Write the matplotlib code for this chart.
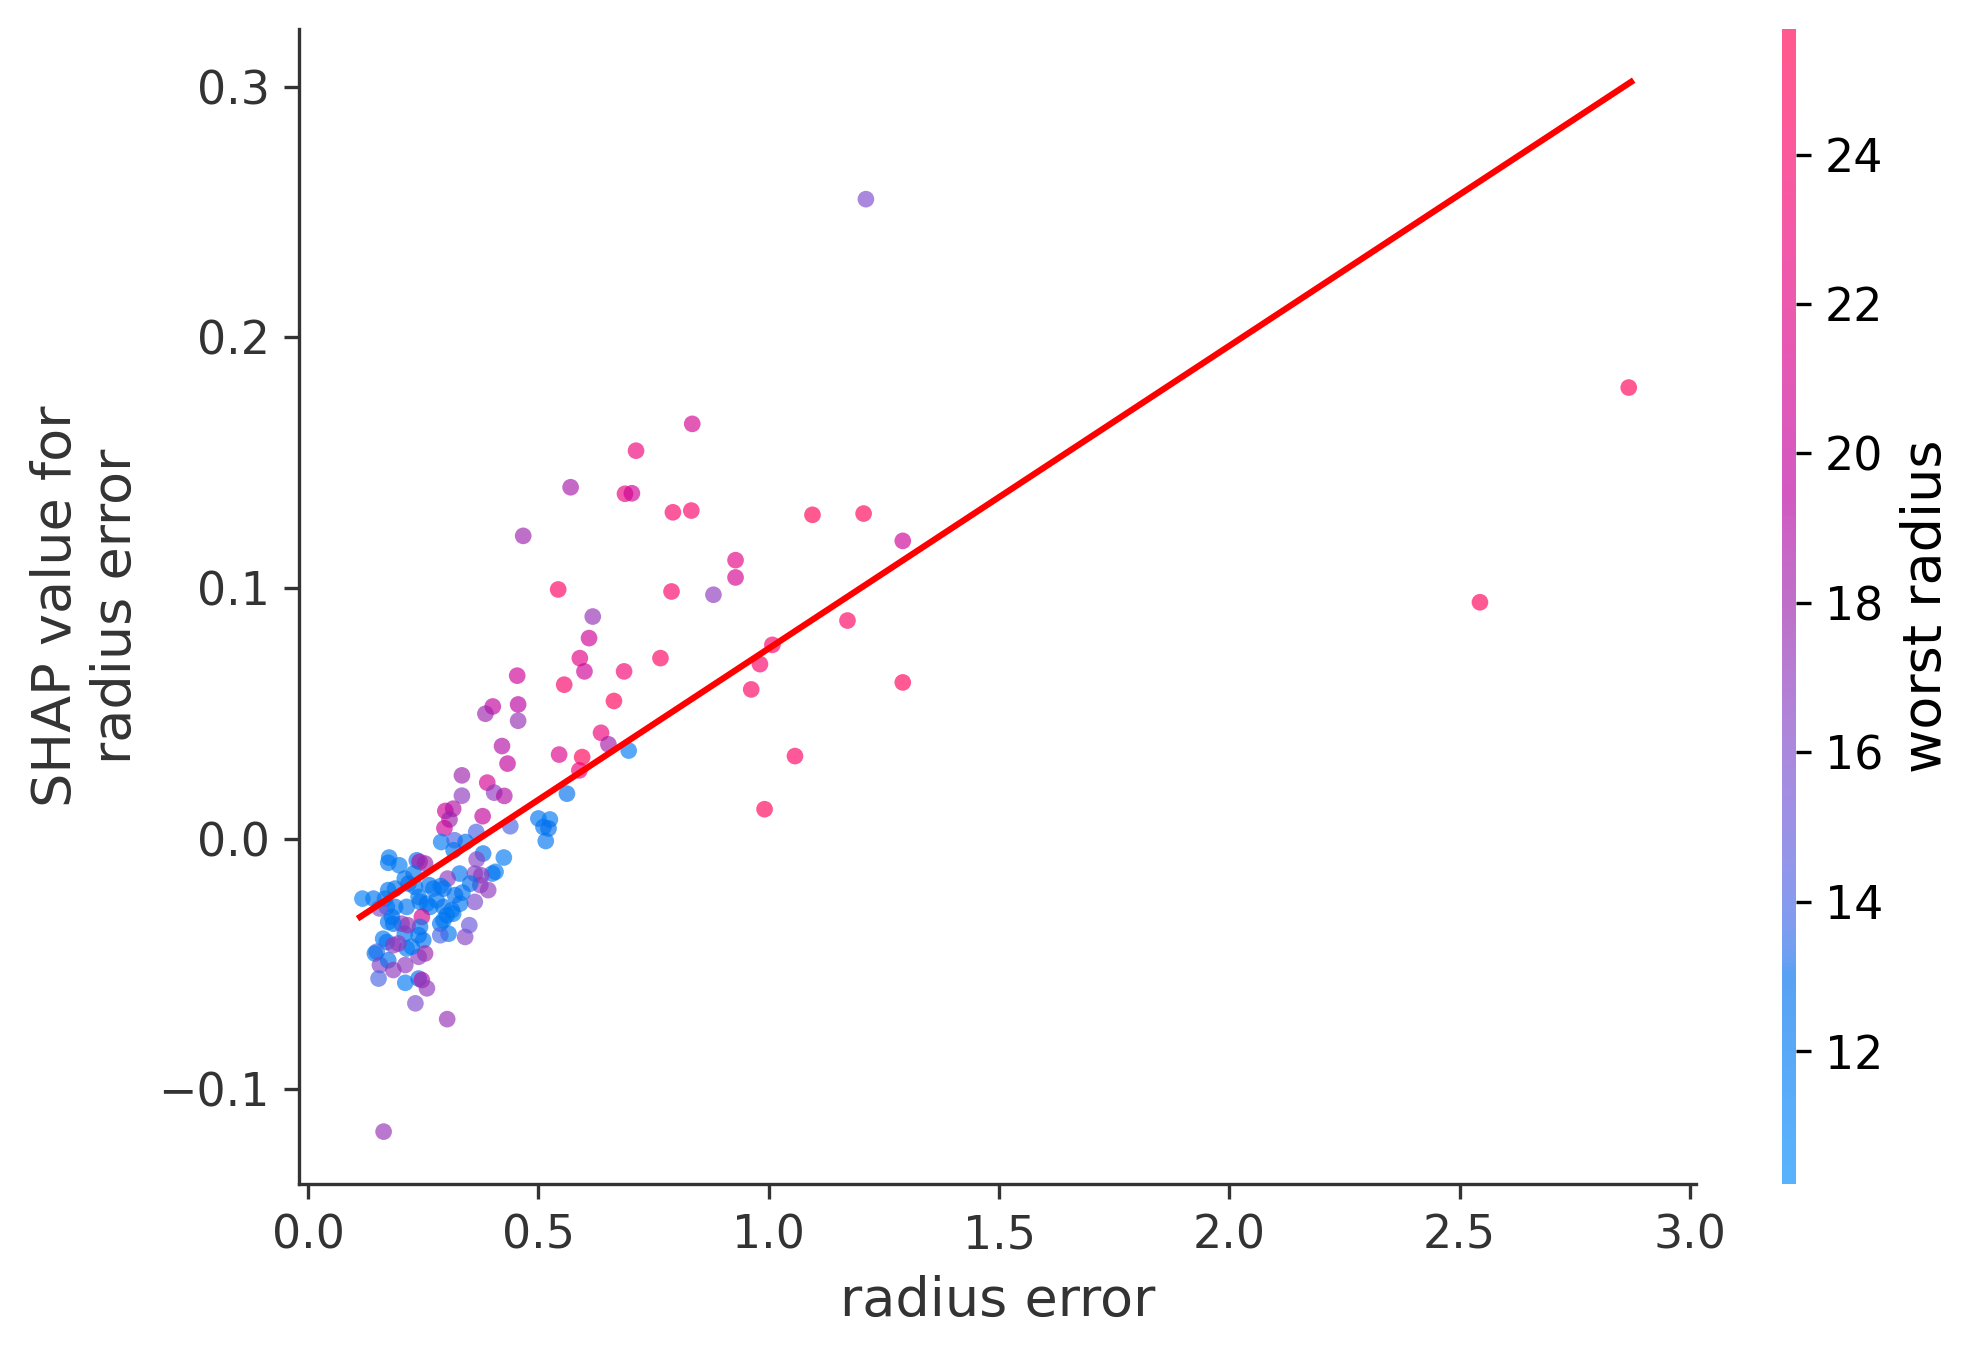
import numpy as np
import matplotlib
matplotlib.use('Agg')
import matplotlib.pyplot as plt
from matplotlib.colors import LinearSegmentedColormap

# radius error (x), SHAP value (y), worst radius (colour)
radius_error = [
    0.834, 0.712, 0.570, 0.688, 0.703, 0.792, 0.832, 1.095, 1.206, 1.291,
    0.467, 0.928, 0.928, 0.543, 0.789, 0.880, 0.618, 0.610, 1.171, 0.590,
    0.600, 0.765, 0.686, 0.454, 0.556, 1.008, 0.981, 0.962, 1.291, 0.401,
    0.385, 0.456, 0.456, 0.664, 0.421, 0.433, 0.636, 0.652, 0.696, 0.545,
    0.595, 0.589, 1.057, 0.389, 0.404, 0.426, 0.562,
    1.211, 2.867, 2.544, 0.991,
    0.334, 0.334, 0.298, 0.315, 0.307, 0.296, 0.379, 0.439, 0.500, 0.525,
    0.511, 0.522, 0.516, 0.289, 0.365, 0.318, 0.342, 0.316, 0.380, 0.425,
    0.366, 0.329, 0.407, 0.400, 0.362, 0.376, 0.374, 0.391, 0.362, 0.352,
    0.335, 0.319, 0.303, 0.294, 0.288, 0.263, 0.236, 0.242, 0.254, 0.229,
    0.176, 0.174, 0.198, 0.210, 0.218, 0.232, 0.240, 0.243, 0.258, 0.272,
    0.279, 0.265, 0.294, 0.301, 0.312, 0.315, 0.287, 0.305, 0.287, 0.294,
    0.341, 0.350, 0.247, 0.243, 0.240, 0.250, 0.254, 0.240, 0.225, 0.214,
    0.210, 0.216, 0.203, 0.185, 0.182, 0.174, 0.189, 0.171, 0.167, 0.174,
    0.189, 0.155, 0.142, 0.118, 0.163, 0.171, 0.185, 0.196, 0.149, 0.145,
    0.156, 0.174, 0.185, 0.211, 0.153, 0.211, 0.240, 0.247, 0.258, 0.233,
    0.214, 0.330, 0.302, 0.164,
]
shap_value = [
    0.1655, 0.1548, 0.1402, 0.1376, 0.1378, 0.1302, 0.1309, 0.1292, 0.1297, 0.1188,
    0.1208, 0.1111, 0.1042, 0.0994, 0.0986, 0.0973, 0.0886, 0.0800, 0.0870, 0.0720,
    0.0667, 0.0720, 0.0667, 0.0650, 0.0614, 0.0773, 0.0696, 0.0595, 0.0623, 0.0527,
    0.0498, 0.0535, 0.0470, 0.0549, 0.0369, 0.0299, 0.0422, 0.0376, 0.0351, 0.0335,
    0.0325, 0.0272, 0.0329, 0.0223, 0.0183, 0.0170, 0.0179,
    0.2552, 0.1800, 0.0943, 0.0117,
    0.0252, 0.0171, 0.0110, 0.0119, 0.0076, 0.0041, 0.0089, 0.0049, 0.0080, 0.0076,
    0.0046, 0.0040, -0.0010, -0.0014, 0.0026, -0.0007, -0.0014, -0.0047, -0.0060, -0.0076,
    -0.0084, -0.0140, -0.0133, -0.0140, -0.0140, -0.0147, -0.0186, -0.0206, -0.0253, -0.0180,
    -0.0216, -0.0226, -0.0160, -0.0200, -0.0190, -0.0186, -0.0087, -0.0093, -0.0100, -0.0140,
    -0.0076, -0.0097, -0.0107, -0.0160, -0.0180, -0.0193, -0.0233, -0.0253, -0.0260, -0.0200,
    -0.0246, -0.0273, -0.0273, -0.0306, -0.0286, -0.0300, -0.0340, -0.0380, -0.0386, -0.0326,
    -0.0393, -0.0346, -0.0313, -0.0353, -0.0386, -0.0406, -0.0459, -0.0472, -0.0432, -0.0439,
    -0.0380, -0.0346, -0.0340, -0.0340, -0.0313, -0.0333, -0.0273, -0.0273, -0.0240, -0.0206,
    -0.0200, -0.0279, -0.0240, -0.0240, -0.0400, -0.0413, -0.0426, -0.0419, -0.0452, -0.0459,
    -0.0505, -0.0486, -0.0525, -0.0505, -0.0559, -0.0576, -0.0559, -0.0565, -0.0598, -0.0658,
    -0.0273, -0.0260, -0.0721, -0.1170,
]
worst_radius = [
    21.0, 23.0, 18.5, 22.5, 20.5, 24.0, 24.0, 25.5, 25.0, 20.5,
    18.0, 22.0, 21.0, 24.5, 24.0, 17.0, 17.5, 20.5, 24.5, 22.0,
    20.5, 24.5, 23.5, 20.5, 24.0, 24.0, 24.0, 24.5, 25.0, 20.0,
    18.0, 19.5, 17.5, 25.0, 19.0, 20.0, 23.0, 18.5, 12.0, 21.5,
    25.0, 23.0, 24.5, 21.0, 17.0, 19.0, 13.0,
    16.0, 25.0, 25.0, 25.0,
    18.0, 17.0, 20.5, 19.0, 18.0, 20.5, 20.0, 14.0, 12.5, 12.0,
    12.5, 13.0, 12.5, 12.0, 14.0, 14.0, 13.0, 12.5, 13.0, 12.0,
    16.5, 12.5, 12.0, 12.5, 16.5, 17.0, 17.0, 17.0, 16.0, 13.0,
    12.5, 13.0, 17.0, 12.5, 12.5, 12.5, 12.5, 19.0, 18.0, 12.5,
    12.0, 12.5, 12.0, 12.5, 13.0, 12.5, 12.5, 12.5, 12.5, 12.5,
    12.5, 12.0, 12.5, 12.5, 12.5, 12.0, 12.5, 12.5, 14.0, 12.5,
    16.5, 15.0, 21.0, 12.5, 12.5, 12.5, 18.0, 17.0, 12.5, 12.0,
    12.5, 17.5, 17.0, 12.5, 12.5, 12.5, 12.5, 12.5, 12.0, 12.5,
    12.5, 16.0, 12.5, 11.5, 12.0, 12.5, 17.0, 17.0, 14.0, 12.5,
    16.5, 13.0, 17.0, 17.0, 14.0, 12.0, 13.0, 19.0, 17.0, 16.0,
    12.5, 12.5, 17.5, 17.5,
]

# fitted line end points
fit_x = [0.113, 2.872]
fit_y = [-0.0313, 0.302]


def lch2rgb(l, c, h):
    a = c * np.cos(h)
    b = c * np.sin(h)
    fy = (l + 16) / 116.
    fx = fy + a / 500.
    fz = fy - b / 200.

    def finv(t):
        return t ** 3 if t > 6 / 29. else 3 * (6 / 29.) ** 2 * (t - 4 / 29.)
    xyz = np.array([0.95047 * finv(fx), finv(fy), 1.08883 * finv(fz)])
    m = np.array([[3.2406, -1.5372, -0.4986],
                  [-0.9689, 1.8758, 0.0415],
                  [0.0557, -0.2040, 1.0570]])
    rgb = m @ xyz
    rgb = np.where(rgb > 0.0031308, 1.055 * np.abs(rgb) ** (1 / 2.4) - 0.055, 12.92 * rgb)
    return np.clip(rgb, 0, 1)


nsteps = 100
l_vals = list(np.linspace(54., 40., nsteps // 2)) + list(np.linspace(40., 54., nsteps // 2))
c_vals = np.linspace(70., 90., nsteps)
h_vals = np.linspace(4.6588, 0.35470565 + 2 * np.pi, nsteps)
cols = [lch2rgb(l, c, h) for l, c, h in zip(l_vals, c_vals, h_vals)]
red_blue = LinearSegmentedColormap.from_list('red_blue', cols)

fig = plt.figure(figsize=(1982 / 300, 1357 / 300), dpi=300)
ax = fig.add_axes([0.1509, 0.1275, 0.7048, 0.8511])
cax = fig.add_axes([0.899, 0.1275, 0.0071, 0.8511])

sc = ax.scatter(radius_error, shap_value, c=worst_radius, cmap=red_blue, vmin=10.22, vmax=25.68,
                s=16, linewidth=0, alpha=0.65)
ax.plot(fit_x, fit_y, color='red', lw=1.5)

ax.set_xlim(-0.0195, 3.013)
ax.set_ylim(-0.1379, 0.3231)
ax.set_xticks([0.0, 0.5, 1.0, 1.5, 2.0, 2.5, 3.0])
ax.set_yticks([-0.1, 0.0, 0.1, 0.2, 0.3])
for s in ['top', 'right']:
    ax.spines[s].set_visible(False)
for s in ['left', 'bottom']:
    ax.spines[s].set_color('#333333')
ax.tick_params(labelsize=11, color='#333333', labelcolor='#333333')
ax.set_xlabel('radius error', fontsize=13, color='#333333')
ax.set_ylabel('SHAP value for\nradius error', fontsize=13, color='#333333')

cb = fig.colorbar(sc, cax=cax, ticks=[12, 14, 16, 18, 20, 22, 24])
cb.outline.set_visible(False)
cb.ax.tick_params(labelsize=11)
cb.set_label('worst radius', size=13)

fig.savefig('out.png', dpi=300)
